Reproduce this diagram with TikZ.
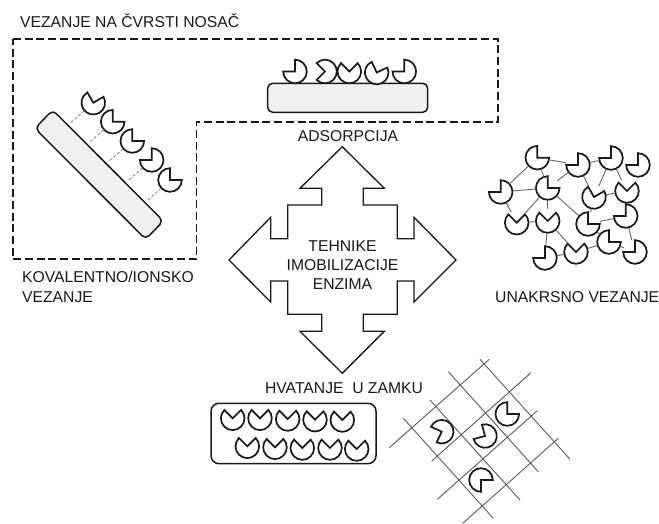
\documentclass[tikz,border=0pt]{standalone}
\usepackage{fontspec}
\setmainfont{Liberation Sans}
\tikzset{
  pacshape/.style={draw=black!90,fill=white,line width=1.7pt,line join=miter,miter limit=10},
  pacanchor/.style={circle,minimum size=24pt,inner sep=0pt,outer sep=0pt},
  plate/.style={draw=black!90,fill=black!6,line width=1.5pt},
  frameline/.style={draw=black!90,line width=1.2pt,dash pattern=on 8pt off 3.7pt},
  linkline/.style={draw=black!60,line width=.9pt},
  tetherline/.style={draw=black!55,line width=.7pt,dash pattern=on 3pt off 2pt},
  gridline/.style={draw=black!65,line width=.9pt},
  label/.style={font=\fontsize{15.7}{19.5}\selectfont,text=black!90,inner sep=0pt},
}
\newcommand{\pacman}[4]{%
  \node[pacanchor] (#1) at (#2,#3) {};
  \draw[pacshape] (#1.center) -- ++({#4+45}:11.8pt) arc[start angle={#4+45},delta angle=270,radius=11.8pt] -- cycle;
}
\begin{document}
\begin{tikzpicture}[x=1pt,y=-1pt]
\useasboundingbox (0,0) rectangle (659,524);
% dashed frame
\draw[frameline] (13,39) -- (498,39) -- (498,122) -- (196.5,122) -- (196.5,259) -- (13,259) -- cycle;
\node[label,anchor=west] (t1) at (20,20.5) {VEZANJE NA ČVRSTI NOSAČ};
% adsorption
\draw[plate,rounded corners=5pt] (267.7,83.3) rectangle (427.7,112.3);
\pacman{a1}{295}{71.5}{135}
\pacman{a2}{325}{71.5}{180}
\pacman{a3}{349.3}{71.5}{90}
\pacman{a4}{376.7}{72.5}{70}
\pacman{a5}{404.3}{71.5}{135}
\node[label] (t2) at (348,136) {ADSORPCIJA};
% covalent
\draw[plate,rounded corners=5pt] (52.7,110) -- (163.3,221) -- (145.7,239.3) -- (35,128.3) -- cycle;
\pacman{c1}{93.3}{102.7}{75}
\pacman{c2}{112.7}{121.7}{45}
\pacman{c3}{132.3}{141}{45}
\pacman{c4}{151.7}{160}{135}
\pacman{c5}{170}{180}{45}
\coordinate (e1) at (70,123.3);
\coordinate (e2) at (89.3,142.7);
\coordinate (e3) at (108.3,161.7);
\coordinate (e4) at (127.7,181);
\coordinate (e5) at (147.3,200.7);
\foreach \i in {1,...,5} \draw[tetherline] (c\i) -- (e\i);
\node[label,anchor=west,align=left] (t3) at (22,287) {KOVALENTNO/IONSKO\\VEZANJE};
% central arrow
\draw[draw=black!90,line width=1.3pt,fill=white] (342.3,146.7) -- (384.3,188.3) -- (363.3,188.3) -- (363.3,205) -- (397.3,205) -- (397.3,238.7) -- (414,238.7) -- (414,217.3) -- (456,260) -- (414,302) -- (414,281) -- (397.3,281) -- (397.3,314.3) -- (363.3,314.3) -- (363.3,331.3) -- (384.3,331.3) -- (342.3,373.3) -- (300,331.3) -- (321.7,331.3) -- (321.7,314.3) -- (287.7,314.3) -- (287.7,281) -- (270.7,281) -- (270.7,302) -- (229,260) -- (270.7,217.3) -- (270.7,238.7) -- (287.7,238.7) -- (287.7,205) -- (321.7,205) -- (321.7,188.3) -- (300,188.3) -- cycle;
\node[label,align=center,font=\fontsize{15.7}{19}\selectfont] (t4) at (342.5,265) {TEHNIKE\\IMOBILIZACIJE\\ENZIMA};
% cross-linking
\pacman{p1}{537.3}{157.7}{45}
\pacman{p2}{578}{165}{135}
\pacman{p3}{611}{158}{135}
\pacman{p4}{638}{165}{135}
\pacman{p5}{500.7}{192}{135}
\pacman{p6}{547.7}{188}{45}
\pacman{p7}{594}{197}{75}
\pacman{p8}{627}{191}{90}
\pacman{p9}{516.7}{222.7}{90}
\pacman{p10}{547.7}{221}{90}
\pacman{p11}{588}{224}{45}
\pacman{p12}{625.7}{216}{135}
\pacman{p13}{609}{242}{45}
\pacman{p14}{635}{252}{135}
\pacman{p15}{576}{252}{90}
\pacman{p16}{545}{258}{135}
\foreach \a/\b in {1/5,1/6,1/2,2/6,2/3,2/7,3/7,3/8,5/6,5/9,6/9,6/10,6/11,7/11,7/8,11/12,9/10,10/16,10/15,15/16,15/13,11/13,13/14,12/14}
  \draw[linkline] (p\a) -- (p\b);
\node[label,anchor=west] (t5) at (495,297) {UNAKRSNO VEZANJE};
% entrapment
\node[label] (t6) at (344,388) {HVATANJE\ \ U ZAMKU};
\draw[draw=black!90,line width=1.5pt,fill=white,rounded corners=8pt] (211,403.3) rectangle (376,463.7);
\pacman{b1}{232.7}{418.3}{90}
\pacman{b2}{260}{418.3}{90}
\pacman{b3}{287.7}{419}{90}
\pacman{b4}{315}{419.7}{90}
\pacman{b5}{342.3}{420}{90}
\pacman{b6}{247.3}{446.3}{90}
\pacman{b7}{275}{447.3}{90}
\pacman{b8}{302.3}{448}{90}
\pacman{b9}{330}{448}{90}
\pacman{b10}{356.7}{449}{90}
% grid
\coordinate (l1a) at (389.3,447.7); \coordinate (l1b) at (489.3,359.3);
\coordinate (l2a) at (431.7,461);   \coordinate (l2b) at (531,372.7);
\coordinate (l3a) at (437.3,499.3); \coordinate (l3b) at (537.3,410.7);
\coordinate (l4a) at (462.7,523.3); \coordinate (l4b) at (558.3,438.3);
\coordinate (m1a) at (403.3,418.3); \coordinate (m1b) at (493.3,518.3);
\coordinate (m2a) at (430,400);     \coordinate (m2b) at (520,500);
\coordinate (m3a) at (448.3,371.7); \coordinate (m3b) at (538.3,471.7);
\coordinate (m4a) at (480,359.3);   \coordinate (m4b) at (570,459.3);
\foreach \i in {1,...,4} {\draw[gridline] (l\i a) -- (l\i b); \draw[gridline] (m\i a) -- (m\i b);}
\pacman{g1}{441.7}{431.7}{200}
\pacman{g2}{485}{436}{150}
\pacman{g3}{507.3}{414}{45}
\pacman{g4}{481}{480}{-45}
\end{tikzpicture}
\end{document}
